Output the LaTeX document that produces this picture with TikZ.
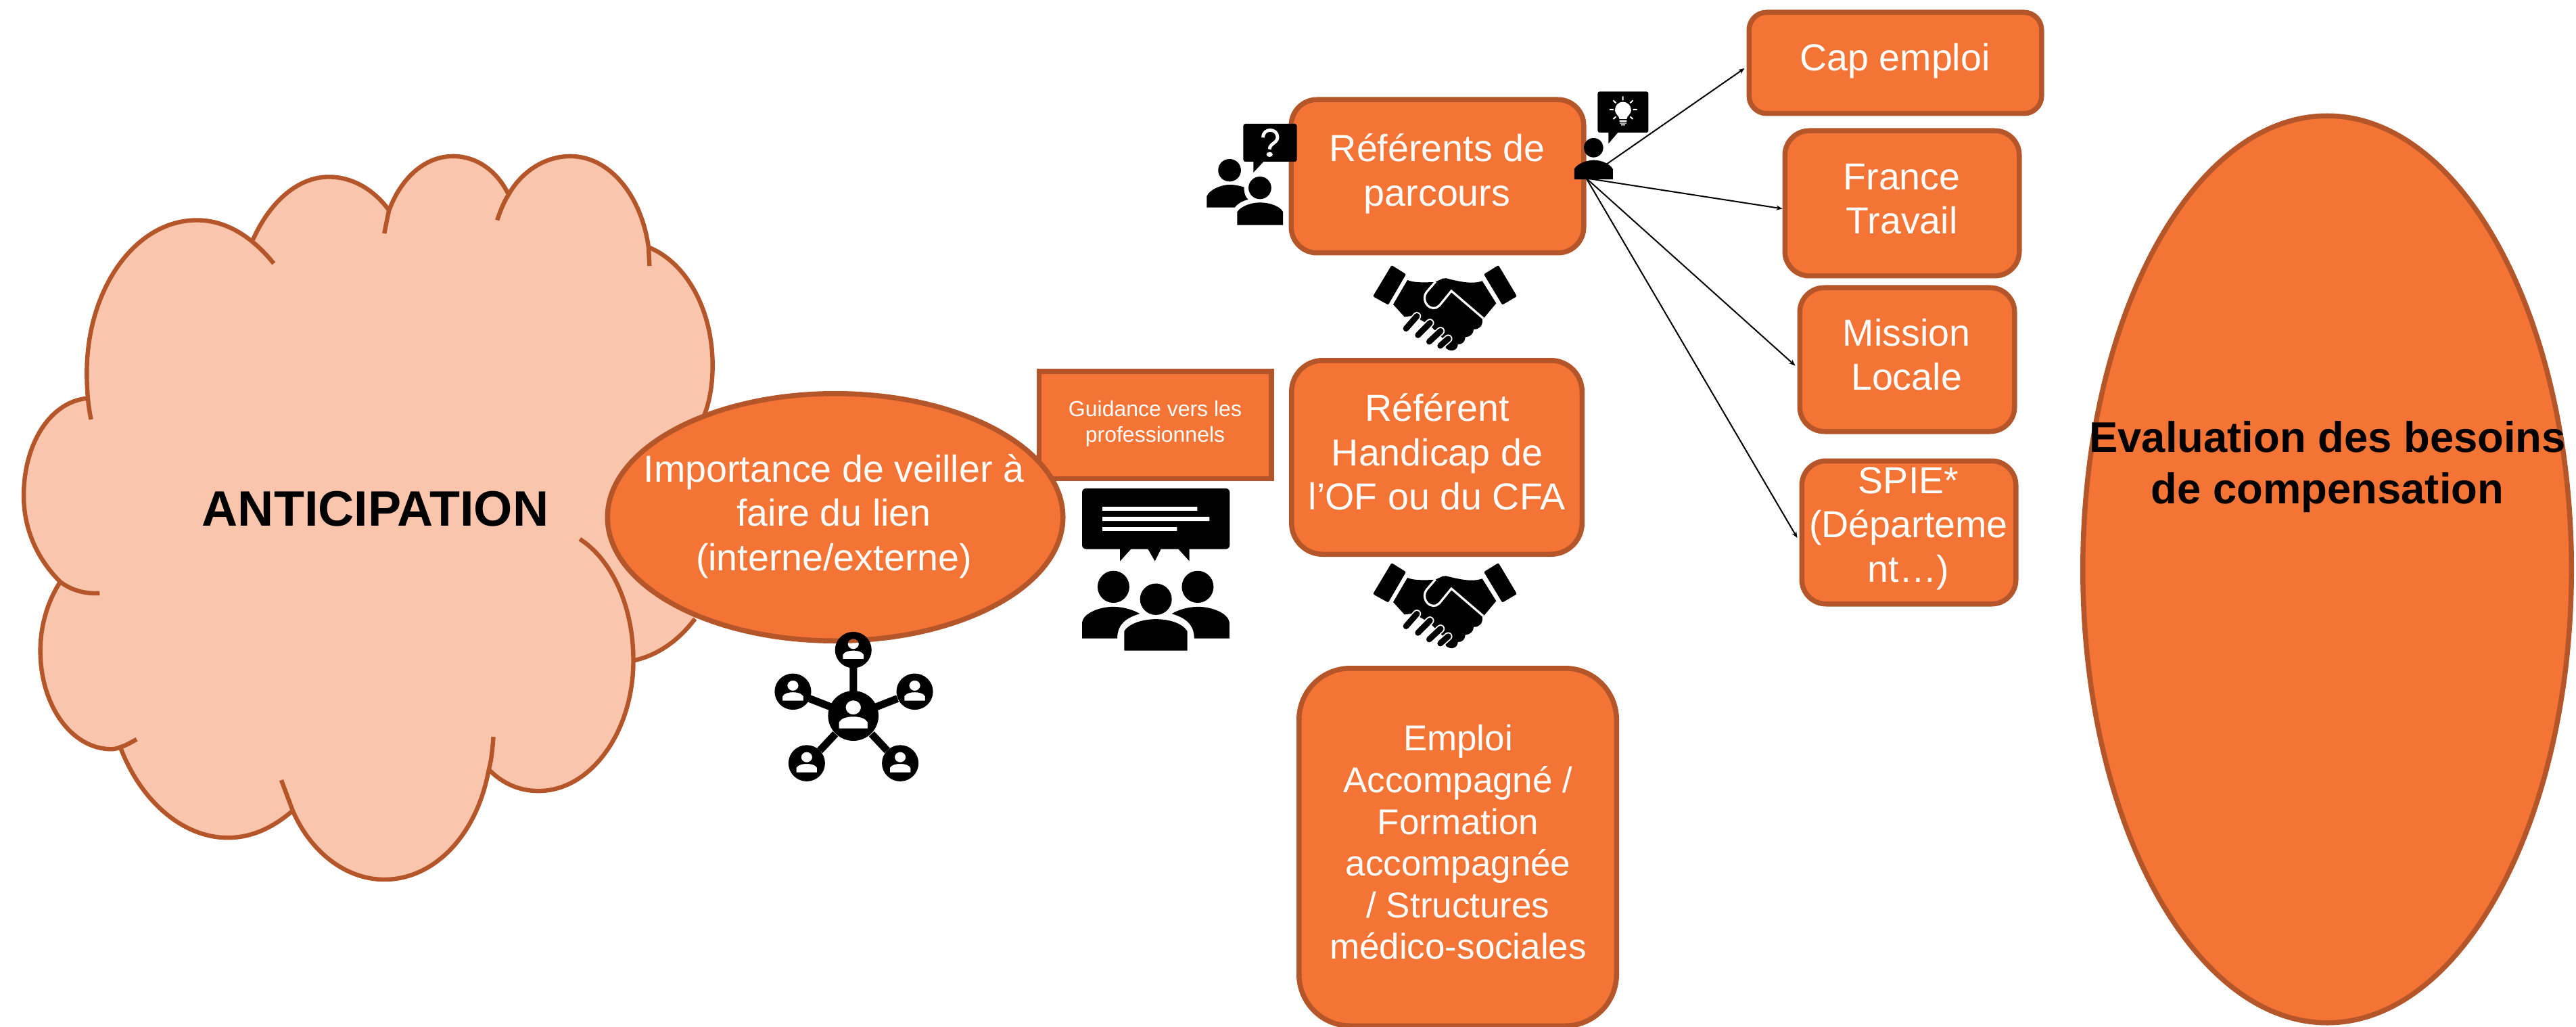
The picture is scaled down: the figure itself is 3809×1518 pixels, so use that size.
\documentclass[tikz,border=0pt]{standalone}
\usepackage{fontspec}
\setmainfont{Liberation Sans}
\usetikzlibrary{shapes.geometric,arrows.meta}
\definecolor{orangefill}{HTML}{F37435}
\definecolor{orangeline}{HTML}{B5562A}
\definecolor{cloudfill}{HTML}{F9C5AC}
\tikzset{
  boxshape/.style={draw=orangeline,fill=orangefill,line width=3.75pt,inner sep=0pt,rectangle},
  ovalshape/.style={draw=orangeline,fill=orangefill,line width=3.75pt,inner sep=0pt,ellipse},
  txt/.style={text=white,align=center,inner sep=0pt,font=\fontsize{27.8}{32.8}\selectfont},
  link/.style={line width=1pt,-{Stealth[length=4.5pt,width=3.6pt]}},
  cloudline/.style={draw=orangeline,line width=3.2pt}
}
\newcommand{\netperson}[3]{%
  \begin{scope}[shift={(#1,#2)},scale=#3]
    \fill[black,even odd rule] (0,0) ellipse [x radius=53,y radius=60]
      (0,-20) ellipse [x radius=16,y radius=17]
      (-30,30) -- (-30,15) .. controls (-25,5) and (-12,2) .. (0,2) .. controls (12,2) and (25,5) .. (30,15) -- (30,30) -- cycle;
  \end{scope}}
\newcommand{\handshake}[2]{%
  \begin{scope}[shift={(#1,#2)},x=0.16667pt,y=-0.16667pt]
    \fill[black,rounded corners=1pt] (233,156) -- (297,196) -- (218,332) -- (150,294) -- cycle;
    \fill[black,rounded corners=1pt] (707,156) -- (642,196) -- (724,332) -- (789,294) -- cycle;
    \fill[black] (303,222) .. controls (335,235) and (380,232) .. (425,231) -- (460,215) -- (475,214)
      .. controls (530,228) and (590,242) .. (635,226) -- (697,325) -- (645,387) -- (635,395)
      .. controls (640,425) and (620,442) .. (597,440) .. controls (597,460) and (580,475) .. (560,475)
      .. controls (560,495) and (545,508) .. (527,507) .. controls (527,530) and (500,545) .. (475,525)
      -- (460,480) -- (400,420) -- (330,380) -- (290,385) -- (240,330) -- cycle;
    \draw[white,line width=1.6pt] (428,229) -- (388,275) .. controls (365,305) and (390,355) .. (430,345) -- (445,335) -- (498,270) -- (640,392);
    \foreach \ax/\ay/\bx/\by in {345/382/297/437,403/412/350/466,450/448/400/495,484/482/449/513}{
      \draw[white,line width=6.2pt,line cap=round] (\ax,\ay) -- (\bx,\by);
      \draw[black,line width=4.4pt,line cap=round] (\ax,\ay) -- (\bx,\by);
    }
  \end{scope}}
\begin{document}
\begin{tikzpicture}[x=0.5pt,y=-0.5pt]
\useasboundingbox (0,0) rectangle (3809,1518);

% cloud
\begin{scope}[shift={(0,180)},x=0.35075pt,y=-0.36364pt]
  \fill[cloudfill] (183,562) -- (183,510) .. controls (183,340) and (285,200) .. (415,200)
    .. controls (465,200) and (505,215) .. (533,240)
    .. controls (570,160) and (630,112) .. (693,112) .. controls (745,112) and (790,140) .. (820,180)
    .. controls (845,115) and (895,70) .. (955,70) .. controls (1005,70) and (1048,100) .. (1072,148)
    .. controls (1100,100) and (1150,70) .. (1202,70) .. controls (1285,70) and (1352,150) .. (1367,255)
    .. controls (1445,285) and (1502,380) .. (1502,495) .. controls (1502,530) and (1497,565) .. (1485,595)
    -- (1465,1010) .. controls (1430,1055) and (1385,1085) .. (1335,1095)
    .. controls (1335,1240) and (1245,1360) .. (1135,1360) .. controls (1095,1360) and (1060,1345) .. (1032,1318)
    .. controls (1005,1450) and (915,1540) .. (810,1540) .. controls (730,1540) and (655,1485) .. (617,1400)
    .. controls (575,1435) and (530,1455) .. (480,1455) .. controls (385,1455) and (295,1380) .. (252,1267)
    .. controls (245,1272) and (240,1275) .. (235,1275) .. controls (150,1275) and (85,1185) .. (85,1075)
    .. controls (85,1025) and (100,975) .. (127,935)
    .. controls (80,890) and (50,830) .. (50,760) .. controls (50,655) and (105,570) .. (183,562) -- cycle;
  \draw[cloudline] (192,605) .. controls (185,575) and (183,540) .. (183,510) .. controls (183,340) and (285,200) .. (415,200)
    .. controls (475,200) and (530,232) .. (577,288);
  \draw[cloudline] (533,240) .. controls (570,160) and (630,112) .. (693,112) .. controls (745,112) and (790,140) .. (820,180);
  \draw[cloudline] (810,227) .. controls (814,208) and (817,192) .. (820,180) .. controls (845,115) and (895,70) .. (955,70) .. controls (1005,70) and (1048,100) .. (1072,148);
  \draw[cloudline] (1048,200) .. controls (1055,180) and (1062,163) .. (1072,148) .. controls (1100,100) and (1150,70) .. (1202,70) .. controls (1285,70) and (1352,150) .. (1367,255) -- (1369,293);
  \draw[cloudline] (1367,255) .. controls (1445,285) and (1502,380) .. (1502,495) .. controls (1502,530) and (1497,565) .. (1485,595);
  \draw[cloudline] (1465,1010) .. controls (1430,1055) and (1385,1085) .. (1335,1095);
  \draw[cloudline] (1222,848) .. controls (1290,890) and (1335,985) .. (1335,1095) .. controls (1335,1240) and (1245,1360) .. (1135,1360) .. controls (1095,1360) and (1060,1345) .. (1032,1318);
  \draw[cloudline] (1040,1250) .. controls (1038,1275) and (1036,1297) .. (1030,1318) .. controls (1005,1450) and (915,1540) .. (810,1540) .. controls (730,1540) and (655,1485) .. (617,1400) -- (593,1338);
  \draw[cloudline] (617,1400) .. controls (575,1435) and (530,1455) .. (480,1455) .. controls (385,1455) and (295,1380) .. (252,1267);
  \draw[cloudline] (288,1255) .. controls (270,1265) and (250,1275) .. (235,1275) .. controls (150,1275) and (85,1185) .. (85,1075) .. controls (85,1025) and (100,975) .. (127,935);
  \draw[cloudline] (210,958) .. controls (180,960) and (150,952) .. (127,935) .. controls (80,890) and (50,830) .. (50,760) .. controls (50,655) and (105,570) .. (183,562);
\end{scope}
\node[font=\fontsize{36.8}{41}\bfseries\selectfont,inner sep=0pt] (antic) at (555,752) {ANTICIPATION};

% guidance box and link ellipse
\node[boxshape,minimum width=171.75pt,minimum height=79.25pt] (guid) at (1708,628) {};
\node[txt,font=\fontsize{16}{19}\selectfont] (guidt) at (1708,626) {Guidance vers les\\professionnels};
\node[ovalshape,minimum width=336.75pt,minimum height=182.75pt] (imp) at (1235,764.5) {};
\node[txt] (impt) at (1233,763) {Importance de veiller à\\faire du lien\\(interne/externe)};

% boxes
\node[boxshape,rounded corners=19pt,minimum width=216.25pt,minimum height=113.25pt] (ref) at (2125.5,260.5) {};
\node[txt] (reft) at (2125,257) {Référents de\\parcours};
\node[boxshape,rounded corners=23pt,minimum width=214.75pt,minimum height=143.25pt] (han) at (2124.5,676) {};
\node[txt] (hant) at (2125,668) {Référent\\Handicap de\\l’OF ou du CFA};
\node[boxshape,rounded corners=38pt,minimum width=234.75pt,minimum height=264.25pt] (emp) at (2155.5,1252) {};
\node[txt,font=\fontsize{26.5}{30.8}\selectfont] (empt) at (2156,1245) {Emploi\\Accompagné /\\Formation\\accompagnée\\/ Structures\\médico-sociales};
\node[boxshape,rounded corners=13pt,minimum width=216.25pt,minimum height=74.75pt] (cap) at (2802.5,93) {};
\node[txt] (capt) at (2802,90) {Cap emploi};
\node[boxshape,rounded corners=18pt,minimum width=173.25pt,minimum height=107.25pt] (fra) at (2812.5,300.5) {};
\node[txt] (frat) at (2812,294) {France\\Travail};
\node[boxshape,rounded corners=18pt,minimum width=158.75pt,minimum height=106.25pt] (mis) at (2820,531.5) {};
\node[txt] (mist) at (2819,524) {Mission\\Locale};
\node[boxshape,rounded corners=18pt,minimum width=158.25pt,minimum height=105.75pt] (spi) at (2822.5,787) {};
\node[txt] (spit) at (2822,781) {SPIE*\\(Départeme\\nt…)};

% right ellipse
\node[ovalshape,minimum width=361.25pt,minimum height=670.25pt] (eva) at (3441,841.5) {};
\node[txt,text=black,font=\fontsize{31.7}{38}\bfseries\selectfont] (evat) at (3441.5,690) {Evaluation des besoins\\de compensation};

% connectors
\draw[link] ([yshift=-1.5pt]ref.east) -- ([shift={(-3,8)}]cap.west);
\draw[link] ([yshift=-1.5pt]ref.east) -- ([shift={(0,8)}]fra.west);
\draw[link] ([yshift=-1.5pt]ref.east) -- ([shift={(-3,9)}]mis.west);
\draw[link] ([yshift=-1.5pt]ref.east) -- ([shift={(-3,8)}]spi.west);

% handshakes
\handshake{1980}{340}
\handshake{1980}{780}

% people with question and bulb
\begin{scope}[shift={(1740,100)},x=0.2551pt,y=-0.16667pt]
  \fill[black,rounded corners=1.5pt] (193,249) rectangle (348,417);
  \fill[black] (222,410) -- (222,465) -- (256,410) -- cycle;
  \draw[white,line width=2.4pt] (250,310) .. controls (250,265) and (292,268) .. (292,308) .. controls (292,335) and (269,335) .. (269,362);
  \fill[white] (269,385) ellipse [x radius=9,y radius=11];
  \fill[black] (153,455) ellipse [x radius=33,y radius=50];
  \fill[black] (241,533) ellipse [x radius=33,y radius=50];
  \fill[black] (87,620) -- (87,570) .. controls (95,540) and (130,519) .. (153,519) .. controls (170,519) and (185,525) .. (195,530)
    .. controls (195,560) and (200,575) .. (207,585) .. controls (190,590) and (175,605) .. (168,620) -- cycle;
  \fill[black] (175,698) -- (175,640) .. controls (185,615) and (215,598) .. (241,598) .. controls (270,598) and (300,615) .. (308,640) -- (308,698) -- cycle;

  \fill[black,rounded corners=1.5pt] (1220,106) rectangle (1367,288);
  \fill[black] (1251,280) -- (1251,337) -- (1283,280) -- cycle;
  \fill[black] (1208,355) ellipse [x radius=28,y radius=43];
  \fill[black] (1152,495) -- (1152,450) .. controls (1160,425) and (1190,410) .. (1208,410) .. controls (1230,410) and (1255,425) .. (1264,450) -- (1264,495) -- cycle;
  \fill[white] (1293,152) .. controls (1278,152) and (1270,170) .. (1270,190) .. controls (1270,205) and (1283,215) .. (1283,228) -- (1304,228)
    .. controls (1304,215) and (1317,205) .. (1317,190) .. controls (1317,170) and (1308,152) .. (1293,152) -- cycle;
  \fill[white] (1283,233) rectangle (1304,240) (1284,244) rectangle (1303,248) (1288,251) rectangle (1299,256);
  \draw[white,line width=1pt] (1293,127) -- (1293,145) (1265,145) -- (1273,157) (1322,145) -- (1314,157) (1254,186) -- (1266,186) (1322,186) -- (1334,186) (1265,228) -- (1273,217) (1322,228) -- (1314,217);
\end{scope}

% audience and network icons
\begin{scope}[shift={(1100,500)},x=0.2551pt,y=-0.2232pt]
  \fill[black,rounded corners=3pt] (980,497) rectangle (1408,698);
  \fill[black] (1090,690) -- (1090,738) -- (1128,690) -- cycle;
  \fill[black] (1167,690) -- (1191,738) -- (1212,690) -- cycle;
  \fill[black] (1253,690) -- (1291,738) -- (1291,690) -- cycle;
  \fill[white] (1039,558) rectangle (1314,571) (1039,591) rectangle (1349,605) (1039,625) rectangle (1255,638);
  \fill[black] (1071,823) ellipse [x radius=46,y radius=53];
  \fill[black] (1315,823) ellipse [x radius=46,y radius=53];
  \fill[black] (1194,864) ellipse [x radius=46,y radius=52];
  \fill[black] (980,994) -- (980,940) .. controls (985,910) and (1030,889) .. (1071,889) .. controls (1100,889) and (1130,900) .. (1147,912) .. controls (1110,925) and (1082,945) .. (1082,994) -- cycle;
  \fill[black] (1407,994) -- (1407,940) .. controls (1402,910) and (1357,889) .. (1316,889) .. controls (1287,889) and (1257,900) .. (1240,912) .. controls (1277,925) and (1305,945) .. (1305,994) -- cycle;
  \fill[black] (1102,1034) -- (1102,970) .. controls (1115,945) and (1155,930) .. (1194,930) .. controls (1235,930) and (1272,945) .. (1285,970) -- (1285,1034) -- cycle;

  \draw[black,line width=5.5pt] (317,1180) -- (317,1085) (255,1222) -- (190,1193) (380,1222) -- (445,1193) (265,1310) -- (220,1365) (370,1310) -- (415,1365);
  \netperson{317}{1032}{1}
  \netperson{142}{1170}{1}
  \netperson{495}{1170}{1}
  \netperson{182}{1407}{1}
  \netperson{453}{1407}{1}
  \netperson{317}{1250}{1.38}
\end{scope}
\end{tikzpicture}
\end{document}
